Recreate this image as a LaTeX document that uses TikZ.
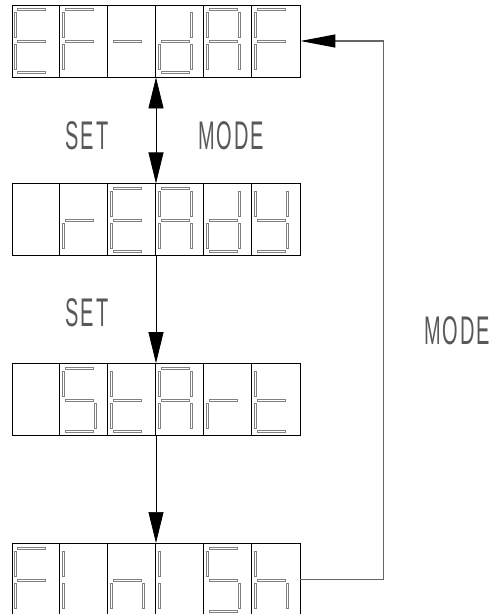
\documentclass[tikz,border=0pt]{standalone}
\usepackage{fontspec}
\newfontfamily\keyfont[FakeStretch=0.5,LetterSpace=5]{Liberation Sans}
\usetikzlibrary{arrows.meta,positioning}

\begin{document}
\begin{tikzpicture}[x=1pt, y=-1pt,
  >={Triangle[length=31pt,width=15pt]},
  display/.style={draw, line width=0.8pt, minimum width=288pt, minimum height=72pt, inner sep=0pt},
  seg/.style={draw=gray, line width=0.45pt},
  keytext/.style={font={\keyfont\fontsize{40}{40}\selectfont}, text=black!65, inner sep=0pt},
  feedback/.style={draw=black!60, line width=1.2pt, -{Triangle[length=35pt,width=13pt,color=black]}},
  sega/.pic={\draw[seg] (6,4) rectangle (34,6);},
  segb/.pic={\draw[seg] (35,8) rectangle (37,33);},
  segc/.pic={\draw[seg] (35,40) rectangle (37,65);},
  segd/.pic={\draw[seg] (6,67) rectangle (34,69);},
  sege/.pic={\draw[seg] (3,40) rectangle (5,65);},
  segf/.pic={\draw[seg] (3,8) rectangle (5,33);},
  segg/.pic={\draw[seg] (6,36) rectangle (34,38);}]
\useasboundingbox (0,0) rectangle (497,614);

\node[display] (efdaf) at (156,41) {};
\node[display, below=106pt of efdaf] (ready) {};
\node[display, below=107pt of ready] (start) {};
\node[display, below=107pt of start] (finish) {};

% cell borders
\foreach \n in {efdaf,ready,start,finish}
  \foreach \i in {1,...,5}
    \draw[line width=0.8pt] ([xshift=48*\i]\n.north west) -- ([xshift=48*\i]\n.south west);

% seven segment digits
\foreach \i/\s in {0/{a,d,e,f,g},1/{a,e,f,g},2/{g},3/{b,c,d,e,g},4/{a,b,c,e,f,g},5/{a,e,f,g}}
  \foreach \k in \s \pic at ([xshift=48*\i]efdaf.north west) {seg\k};
\foreach \i/\s in {1/{e,g},2/{a,d,e,f,g},3/{a,b,c,e,f,g},4/{b,c,d,e,g},5/{b,c,d,f,g}}
  \foreach \k in \s \pic at ([xshift=48*\i]ready.north west) {seg\k};
\foreach \i/\s in {1/{a,c,d,f,g},2/{d,e,f,g},3/{a,b,c,e,f,g},4/{e,g},5/{d,e,f,g}}
  \foreach \k in \s \pic at ([xshift=48*\i]start.north west) {seg\k};
\foreach \i/\s in {0/{a,e,f,g},1/{e,f},2/{c,e,g},3/{e,f},4/{a,c,d,f,g},5/{c,e,f,g}}
  \foreach \k in \s \pic at ([xshift=48*\i]finish.north west) {seg\k};

\node[keytext] (set1) at (87,136) {SET};
\node[keytext] (mode1) at (231,136) {MODE};
\node[keytext] (set2) at (87,313) {SET};
\node[keytext] (mode2) at (457,331) {MODE};

\draw[<->, line width=0.7pt] (efdaf) -- (ready);
\draw[->, line width=0.7pt] (ready) -- (start);
\draw[->, line width=0.7pt] (start) -- (finish);
\draw[feedback] (finish.east) -- ++(83,0) |- (efdaf.east);
\end{tikzpicture}
\end{document}
